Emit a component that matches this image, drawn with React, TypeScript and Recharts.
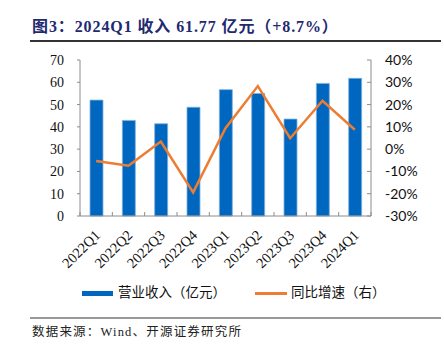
import React from "react";
import { ComposedChart, Bar, Line, XAxis, YAxis } from "recharts";

const categories = ["2022Q1", "2022Q2", "2022Q3", "2022Q4", "2023Q1", "2023Q2", "2023Q3", "2023Q4", "2024Q1"];
const revenue = [52.0, 42.9, 41.4, 48.8, 56.7, 55.0, 43.5, 59.5, 61.77];
const growth = [-5.3, -7.4, 3.4, -19.4, 9.4, 28.3, 4.9, 21.7, 8.7];
const leftTicks = [0, 10, 20, 30, 40, 50, 60, 70];
const rightTicks = [-30, -20, -10, 0, 10, 20, 30, 40];

const data = categories.map((c, i) => ({ cat: c, rev: revenue[i], yoy: growth[i] }));

const axisColor = "#8c8c8c";
const serif = "'Liberation Serif', 'Times New Roman', 'Noto Sans CJK SC', serif";

const LeftTick = (props: any) => {
  const { x, y, payload } = props;
  return (
    <g>
      <line x1={x - 3} x2={x} y1={y} y2={y} stroke={axisColor} />
      <text x={x - 16} y={y} dy={5} textAnchor="end" fontSize={14} fontFamily={serif} fill="#111">
        {payload.value}
      </text>
    </g>
  );
};

const RightTick = (props: any) => {
  const { x, y, payload } = props;
  return (
    <g>
      <line x1={x - 4} x2={x} y1={y} y2={y} stroke={axisColor} />
      <text x={x + 14} y={y} dy={5} textAnchor="start" fontSize={14} fontFamily="Lato, 'Open Sans', sans-serif" fill="#111">
        {payload.value}%
      </text>
    </g>
  );
};

const BottomTick = (props: any) => {
  const { x, y, payload, index } = props;
  const off = payload.offset ?? 16.2;
  const last = index === categories.length - 1;
  const tx = x + 5;
  const ty = y + 20;
  return (
    <g>
      <line x1={x - off} x2={x - off} y1={y - 4} y2={y} stroke={axisColor} />
      {last ? <line x1={x + off} x2={x + off} y1={y - 4} y2={y} stroke={axisColor} /> : null}
      <text
        x={tx}
        y={ty}
        textAnchor="end"
        fontSize={14.5}
        fontFamily={serif}
        fill="#111"
        transform={`rotate(-45, ${tx}, ${ty})`}
      >
        {payload.value}
      </text>
    </g>
  );
};

export default function App() {
  return (
    <div style={{ position: "absolute", left: 0, top: 0, width: 444, height: 347, background: "#fff", overflow: "hidden" }}>
      <div
        style={{
          position: "absolute",
          left: 32,
          top: 17,
          fontFamily: serif,
          fontWeight: "bold",
          fontSize: 16,
          letterSpacing: 0.9,
          color: "#1f2a70",
          whiteSpace: "nowrap",
          lineHeight: "20px",
        }}
      >
        图3：2024Q1 收入 61.77 亿元（+8.7%）
      </div>
      <div style={{ position: "absolute", left: 30, top: 40, width: 411, height: 1.5, background: "#333" }} />

      <div style={{ position: "absolute", left: 0, top: 0 }}>
        <ComposedChart width={444} height={347} data={data} margin={{ top: 60, left: 40, right: 23, bottom: 71 }}>
          <XAxis
            dataKey="cat"
            height={60}
            axisLine={{ stroke: axisColor }}
            tickLine={false}
            tickSize={0}
            tickMargin={0}
            tick={<BottomTick />}
            interval={0}
          />
          <YAxis
            yAxisId="l"
            width={40}
            domain={[0, 70]}
            ticks={leftTicks}
            axisLine={{ stroke: axisColor }}
            tickLine={false}
            tickSize={0}
            tickMargin={0}
            tick={<LeftTick />}
            interval={0}
          />
          <YAxis
            yAxisId="r"
            orientation="right"
            width={50}
            domain={[-30, 40]}
            ticks={rightTicks}
            axisLine={{ stroke: axisColor }}
            tickLine={false}
            tickSize={0}
            tickMargin={0}
            tick={<RightTick />}
            interval={0}
          />
          <Bar yAxisId="l" dataKey="rev" fill="#0067c0" stroke="#7fb0e0" strokeWidth={0.8} barSize={13} isAnimationActive={false} />
          <Line yAxisId="r" dataKey="yoy" stroke="#ed7d31" strokeWidth={2.5} dot={false} type="linear" isAnimationActive={false} />
        </ComposedChart>
      </div>

      <div style={{ position: "absolute", left: 82, top: 291, width: 31, height: 5, background: "#0067c0" }} />
      <div style={{ position: "absolute", left: 118, top: 284, fontFamily: serif, fontSize: 13.5, color: "#111", whiteSpace: "nowrap", lineHeight: "18px" }}>
        营业收入（亿元）
      </div>
      <div style={{ position: "absolute", left: 255, top: 292, width: 32, height: 2.5, background: "#ed7d31" }} />
      <div style={{ position: "absolute", left: 291, top: 284, fontFamily: serif, fontSize: 13.5, color: "#111", whiteSpace: "nowrap", lineHeight: "18px" }}>
        同比增速（右）
      </div>

      <div style={{ position: "absolute", left: 30, top: 317, width: 411, height: 1.5, background: "#999" }} />
      <div style={{ position: "absolute", left: 32, top: 324, fontFamily: serif, fontSize: 12.5, letterSpacing: 1.2, color: "#222", whiteSpace: "nowrap", lineHeight: "16px" }}>
        数据来源：Wind、开源证券研究所
      </div>
    </div>
  );
}
